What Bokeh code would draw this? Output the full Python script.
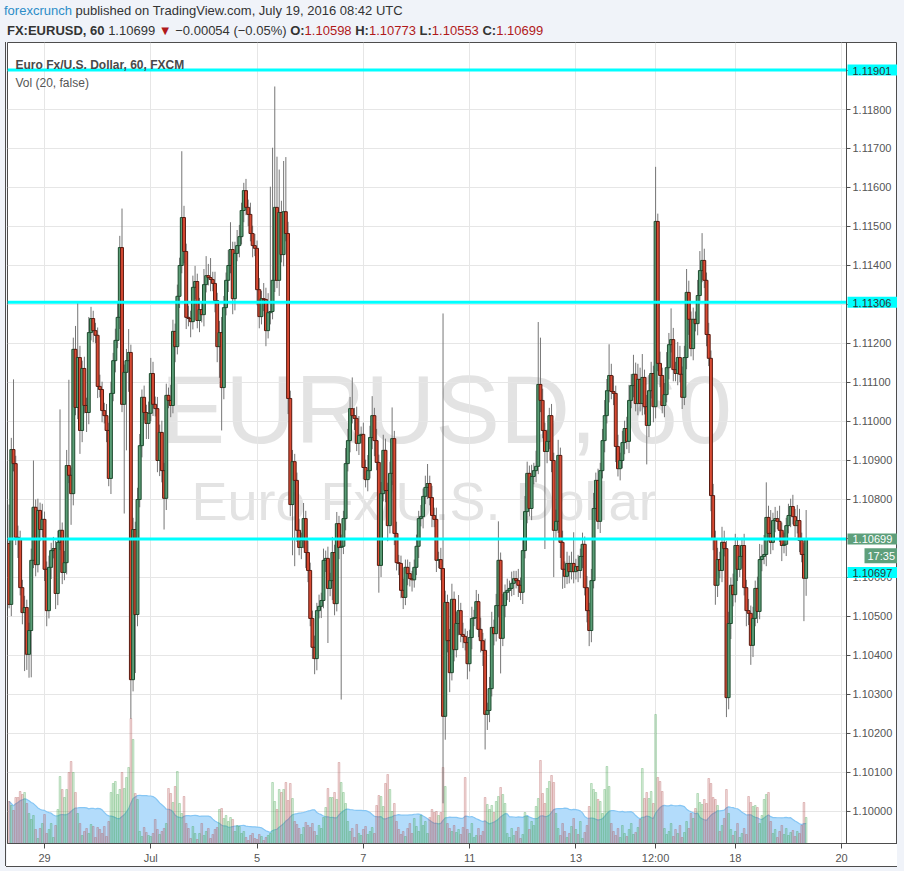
import numpy as np
import pandas as pd
from bokeh.plotting import figure
from bokeh.models import Range1d, FixedTicker, Label, Div
from bokeh.layouts import column
from bokeh.core.properties import value
from bokeh.embed import file_html
from bokeh.resources import INLINE

# ---------------- data (EURUSD, 60 min, FXCM) ----------------
first_open = 1.10687
close = [
    1.10531, 1.10928, 1.10892, 1.10703, 1.10700, 1.10574, 1.10510, 1.10523, 1.10403, 1.10464,
    1.10644, 1.10780, 1.10633, 1.10772, 1.10723, 1.10749, 1.10621, 1.10515, 1.10626, 1.10669,
    1.10674, 1.10559, 1.10690, 1.10721, 1.10613, 1.10638, 1.10887, 1.10862, 1.10815, 1.11185,
    1.11036, 1.11164, 1.10977, 1.11136, 1.11041, 1.11023, 1.11228, 1.11264, 1.11233, 1.11221,
    1.11090, 1.11082, 1.11028, 1.11015, 1.10977, 1.10854, 1.11072, 1.11156, 1.11208, 1.11267,
    1.11446, 1.11044, 1.11126, 1.11156, 1.11177, 1.10338, 1.10723, 1.10505, 1.10800, 1.10938,
    1.11062, 1.11023, 1.10995, 1.11021, 1.11123, 1.11044, 1.11033, 1.10900, 1.10972, 1.10874,
    1.10803, 1.11067, 1.11054, 1.11041, 1.11231, 1.11192, 1.11321, 1.11400, 1.11523, 1.11436,
    1.11267, 1.11264, 1.11256, 1.11344, 1.11359, 1.11259, 1.11287, 1.11274, 1.11351, 1.11374,
    1.11369, 1.11364, 1.11354, 1.11310, 1.11192, 1.11228, 1.11087, 1.11292, 1.11362, 1.11400,
    1.11441, 1.11315, 1.11431, 1.11451, 1.11474, 1.11541, 1.11592, 1.11549, 1.11531, 1.11482,
    1.11451, 1.11444, 1.11338, 1.11269, 1.11315, 1.11313, 1.11233, 1.11279, 1.11282, 1.11362,
    1.11549, 1.11362, 1.11536, 1.11428, 1.11538, 1.11482, 1.11059, 1.10787, 1.10897, 1.10849,
    1.10721, 1.10677, 1.10695, 1.10751, 1.10664, 1.10618, 1.10495, 1.10421, 1.10392, 1.10515,
    1.10526, 1.10541, 1.10644, 1.10649, 1.10572, 1.10592, 1.10664, 1.10533, 1.10738, 1.10677,
    1.10680, 1.10751, 1.10892, 1.10951, 1.11033, 1.11015, 1.11008, 1.10944, 1.10964, 1.10967,
    1.10882, 1.10851, 1.10874, 1.10959, 1.11015, 1.10951, 1.10895, 1.10631, 1.10815, 1.10926,
    1.10823, 1.10733, 1.10867, 1.10956, 1.10713, 1.10638, 1.10636, 1.10567, 1.10549, 1.10626,
    1.10610, 1.10597, 1.10594, 1.10626, 1.10680, 1.10751, 1.10756, 1.10808, 1.10831, 1.10841,
    1.10805, 1.10759, 1.10749, 1.10644, 1.10646, 1.10623, 1.10244, 1.10536, 1.10438, 1.10356,
    1.10544, 1.10415, 1.10482, 1.10515, 1.10454, 1.10449, 1.10433, 1.10379, 1.10446, 1.10495,
    1.10497, 1.10538, 1.10467, 1.10438, 1.10413, 1.10249, 1.10259, 1.10315, 1.10472, 1.10456,
    1.10528, 1.10644, 1.10444, 1.10528, 1.10562, 1.10567, 1.10572, 1.10585, 1.10597, 1.10592,
    1.10580, 1.10562, 1.10669, 1.10769, 1.10867, 1.10777, 1.10859, 1.10874, 1.10885, 1.11095,
    1.11054, 1.10977, 1.10923, 1.10949, 1.11015, 1.10900, 1.10721, 1.10744, 1.10913, 1.10690,
    1.10621, 1.10603, 1.10636, 1.10615, 1.10636, 1.10615, 1.10628, 1.10618, 1.10654, 1.10685,
    1.10574, 1.10515, 1.10464, 1.10592, 1.10777, 1.10849, 1.10744, 1.10874, 1.10951, 1.11015,
    1.11079, 1.11118, 1.11077, 1.11072, 1.10936, 1.10879, 1.10900, 1.10946, 1.10982, 1.10949,
    1.11054, 1.11092, 1.11121, 1.11046, 1.11108, 1.11046, 1.11113, 1.11038, 1.10990, 1.11079,
    1.11123, 1.11038, 1.11513, 1.11149, 1.11118, 1.11041, 1.11069, 1.11138, 1.11197, 1.11210,
    1.11133, 1.11123, 1.11164, 1.11121, 1.11062, 1.11164, 1.11331, 1.11262, 1.11187, 1.11262,
    1.11251, 1.11323, 1.11387, 1.11413, 1.11362, 1.11223, 1.11162, 1.10810, 1.10700, 1.10580,
    1.10646, 1.10618, 1.10690, 1.10674, 1.10292, 1.10482, 1.10580, 1.10556, 1.10682, 1.10621,
    1.10654, 1.10682, 1.10574, 1.10515, 1.10508, 1.10426, 1.10495, 1.10572, 1.10513, 1.10646,
    1.10654, 1.10659, 1.10754, 1.10713, 1.10690, 1.10746, 1.10751, 1.10744, 1.10721, 1.10682,
    1.10685, 1.10733, 1.10759, 1.10782, 1.10756, 1.10733, 1.10746, 1.10695, 1.10659, 1.10598, 1.10699,
]
# upper / lower shadow lengths, in pips
upper_wick = [
    10, 3, 18, 2, 3, 2, 2, 3, 2, 2,   3, 12, 2, 3, 2, 4, 2, 2, 3, 2,
    3, 2, 3, 31, 2, 3, 4, 22, 2, 3,   6, 14, 3, 2, 3, 2, 4, 3, 2, 2,
    2, 3, 2, 2, 3, 2, 3, 2, 3, 4,     3, 10, 2, 3, 6, 2, 3, 2, 3, 3,
    2, 3, 2, 3, 4, 3, 2, 3, 2, 3,     2, 3, 2, 4, 3, 2, 3, 2, 17, 3,
    2, 3, 2, 3, 4, 2, 3, 2, 4, 5,     3, 5, 2, 3, 2, 3, 4, 3, 2, 4,
    7, 2, 3, 4, 3, 2, 2, 3, 2, 3,     2, 3, 2, 3, 2, 4, 3, 5, 32, 34,
    31, 13, 11, 3, 13, 14, 3, 2, 3, 2, 2, 3, 2, 4, 2, 3, 2, 2, 3, 2,
    3, 2, 3, 2, 3, 2, 4, 2, 3, 2,     3, 2, 4, 3, 3, 8, 2, 3, 5, 2,
    3, 2, 4, 3, 5, 2, 3, 2, 3, 4,     3, 2, 3, 8, 2, 3, 2, 2, 3, 2,
    2, 3, 2, 2, 3, 2, 3, 2, 3, 5,     2, 3, 2, 3, 2, 3, 65.4, 3, 2, 3,
    4, 2, 3, 4, 2, 3, 2, 3, 2, 3,     2, 3, 2, 3, 2, 3, 2, 3, 4, 2,
    3, 10, 2, 3, 2, 3, 2, 3, 2, 2,    3, 2, 3, 4, 3, 2, 3, 2, 4, 16,
    12, 3, 2, 3, 2, 3, 2, 3, 4, 2,    3, 2, 3, 2, 3, 8, 2, 3, 2, 3,
    2, 3, 2, 3, 4, 2, 3, 2, 3, 4,     3, 8, 3, 4, 2, 3, 2, 3, 2, 3,
    4, 3, 5, 3, 4, 3, 6, 2, 3, 4,     3, 2, 14, 2, 3, 2, 3, 4, 3, 8,
    3, 2, 4, 3, 2, 3, 6, 3, 2, 3,     2, 4, 5, 7, 3, 2, 3, 2, 3, 2,
    3, 2, 4, 3, 2, 3, 2, 3, 3, 2,     3, 2, 3, 2, 3, 2, 3, 2, 3, 4,
    3, 5, 9, 3, 6, 2, 3, 2, 4, 2,     3, 2, 3, 2, 3, 2, 4, 3, 2, 3, 7.4,
]
lower_wick = [
    1, 3, 2, 2, 5, 2, 3, 15, 4, 6,    12, 2, 3, 2, 3, 2, 3, 4, 2, 3,
    2, 4, 3, 2, 3, 2, 3, 2, 8, 3,     2, 3, 6, 3, 2, 5, 3, 2, 3, 2,
    3, 2, 3, 2, 3, 2, 4, 2, 3, 2,     3, 2, 28, 20, 8, 10, 3, 15, 3, 2,
    3, 2, 4, 4, 2, 3, 2, 3, 4, 3,     8, 3, 2, 3, 2, 4, 2, 3, 2, 3,
    3, 2, 4, 2, 3, 2, 3, 2, 3, 2,     2, 3, 2, 3, 4, 8, 11, 3, 2, 3,
    2, 4, 3, 2, 3, 2, 3, 2, 3, 2,     3, 2, 4, 3, 2, 3, 4, 2, 3, 2,
    3, 2, 4, 2, 3, 2, 4, 3, 13, 22,   3, 2, 3, 2, 4, 3, 2, 3, 4, 3,
    2, 3, 2, 3, 14, 2, 5, 3, 2, 3,    39, 2, 3, 2, 3, 2, 3, 2, 3, 2,
    3, 2, 3, 2, 3, 4, 2, 7, 3, 2,     3, 4, 2, 3, 3, 2, 3, 2, 3, 2,
    3, 2, 3, 2, 2, 3, 2, 3, 2, 3,     2, 3, 2, 3, 2, 3, 22.3, 6, 3, 5,
    2, 3, 2, 3, 2, 3, 2, 4, 2, 3,     2, 3, 2, 3, 4, 9, 4, 3, 2, 3,
    2, 3, 9, 2, 3, 2, 3, 2, 3, 2,     3, 2, 3, 2, 3, 2, 3, 2, 3, 2,
    3, 2, 25, 3, 2, 3, 12, 2, 3, 4,   5, 3, 2, 3, 2, 3, 2, 3, 2, 3,
    2, 3, 4, 3, 2, 3, 2, 3, 2, 3,     2, 3, 2, 3, 4, 2, 3, 2, 3, 2,
    3, 2, 3, 2, 3, 2, 3, 2, 10, 3,    2, 4, 3, 2, 3, 2, 3, 2, 3, 2,
    3, 2, 3, 2, 3, 2, 3, 4, 2, 3,     2, 3, 2, 3, 2, 3, 2, 4, 3, 5,
    3, 2, 3, 2, 5, 3, 4, 3, 2, 3,     2, 3, 2, 4, 3, 5, 3, 2, 3, 2,
    3, 2, 3, 2, 3, 2, 3, 2, 3, 4,     2, 3, 2, 3, 2, 3, 2, 3, 2, 11, 4.5,
]
volume = [
    42, 38, 33, 46, 46, 52, 49, 51, 40, 30,   24, 28, 14, 5, 15, 20, 29, 10, 14, 20,
    6, 18, 34, 67, 54, 46, 54, 71, 82, 71,    51, 30, 20, 8, 12, 15, 10, 19, 17, 6,
    16, 14, 10, 17, 7, 22, 51, 60, 62, 49,    54, 71, 55, 66, 76, 125, 104, 50, 44, 12,
    7, 16, 11, 8, 7, 10, 24, 14, 9, 12,       15, 20, 55, 50, 41, 57, 72, 40, 30, 47,
    20, 15, 5, 17, 10, 4, 10, 20, 8, 12,      15, 5, 9, 14, 16, 34, 35, 25, 28, 22,
    26, 24, 12, 18, 17, 10, 12, 6, 3, 8,      10, 5, 4, 9, 7, 3, 6, 8, 10, 61,
    42, 34, 54, 51, 54, 61, 43, 60, 45, 22,   19, 15, 9, 16, 21, 18, 16, 20, 12, 8,
    18, 15, 26, 36, 55, 46, 46, 51, 44, 81,   61, 51, 40, 22, 12, 15, 6, 19, 10, 8,
    14, 17, 9, 12, 16, 10, 38, 48, 47, 37,    60, 69, 54, 32, 40, 22, 14, 9, 12, 7,
    15, 20, 10, 25, 17, 12, 28, 18, 22, 10,   26, 34, 31, 32, 28, 31, 76, 57, 20, 15,
    12, 18, 11, 14, 9, 16, 66, 14, 10, 20,    6, 8, 15, 8, 12, 46, 39, 34, 38, 31,
    42, 47, 56, 49, 40, 10, 6, 15, 8, 12,     16, 5, 9, 31, 27, 14, 22, 18, 37, 45,
    83, 50, 40, 55, 62, 68, 61, 30, 15, 8,    20, 12, 6, 10, 17, 25, 14, 9, 22, 5,
    11, 18, 37, 60, 54, 51, 44, 42, 30, 54,   77, 57, 20, 12, 8, 15, 6, 18, 10, 7,
    14, 20, 9, 11, 16, 24, 75, 45, 51, 45,    52, 40, 129, 66, 62, 52, 15, 9, 12, 20,
    7, 14, 10, 18, 6, 11, 22, 15, 30, 25,     35, 50, 41, 39, 44, 40, 65, 60, 46, 44,
    38, 12, 18, 25, 54, 30, 14, 8, 12, 20,    6, 10, 15, 9, 47, 41, 37, 38, 36, 20,
    28, 44, 49, 51, 22, 10, 14, 6, 12, 18,    9, 15, 8, 11, 13, 7, 12, 10, 18, 41, 26,
]
# time axis: bar index of each labelled tick and its text
tick_bar = [16, 64, 112, 160, 208, 256, 292, 328, 376]
tick_text = ["29", "Jul", "5", "7", "11", "13", "12:00", "18", "20"]
price_ticks = [1.100, 1.101, 1.102, 1.103, 1.104, 1.105, 1.106, 1.107, 1.108, 1.109,
               1.110, 1.111, 1.112, 1.113, 1.114, 1.115, 1.116, 1.117, 1.118, 1.119]
hlines = [1.11901, 1.11306, 1.10699]
last_price = 1.10699
countdown = "17:35"

# ---------------- derived ----------------
n = len(close)
idx = np.arange(n)
c = np.array(close)
o = np.concatenate([[first_open], c[:-1]])
top = np.maximum(o, c)
bot = np.minimum(o, c)
hi = top + np.array(upper_wick) * 1e-4
lo = bot - np.array(lower_wick) * 1e-4
rising = c >= o
vol = np.array(volume, dtype=float)
vol_ma = pd.Series(vol).rolling(20, min_periods=1).mean().values

FONT = "Liberation Sans"
AXIS_C = "#4d4d4d"
GRID_C = "#e6e6e6"
Y0, Y1 = 1.099179, 1.119718

# frame covers the price pane plus the price-scale strip (x in pixels 7..897)
p = figure(width=891, height=824, output_backend="svg", toolbar_location=None,
           x_range=Range1d(-0.72, 401.26), y_range=Range1d(Y0, Y1),
           y_axis_location=None,
           min_border_left=1, min_border_top=0, min_border_right=0, min_border_bottom=23)
p.margin = (0, 7, 5, 6)
p.styles = {"box-shadow": "0 1px 0 0 #4d4d4d, -1px 0 0 0 #4d4d4d"}
p.background_fill_color = "white"
p.border_fill_color = "white"
p.outline_line_color = AXIS_C
p.extra_x_ranges = {"px": Range1d(7, 897)}
p.extra_y_ranges = {"vol": Range1d(0, 801)}
SEP = 846   # price-scale separator (pixel column)

# grid
p.xgrid.ticker = FixedTicker(ticks=tick_bar)
p.xgrid.grid_line_color = GRID_C
p.ygrid.visible = False
p.segment(x0=7, x1=SEP, y0=price_ticks, y1=price_ticks, x_range_name="px",
          line_color=GRID_C, line_width=1)

# time axis
xa = p.xaxis[0]
xa.ticker = FixedTicker(ticks=tick_bar)
xa.major_label_overrides = {t: s for t, s in zip(tick_bar, tick_text)}
xa.major_tick_out = 5
xa.major_tick_in = 0
xa.minor_tick_line_color = None
xa.axis_line_color = AXIS_C
xa.major_tick_line_color = AXIS_C
xa.major_label_text_font = FONT
xa.major_label_text_font_size = "11px"
xa.major_label_text_color = "#555555"
xa.major_label_standoff = 3

# watermark
p.add_layout(Label(x=153, y=434, x_units="screen", y_units="screen", text="EURUSD, 60",
                   text_font=FONT, text_font_size="97px", text_color="#e3e3e3",
                   text_baseline="alphabetic", level="image"))
p.add_layout(Label(x=184, y=343, x_units="screen", y_units="screen", text="Euro Fx/U.S. Dollar",
                   text_font=FONT, text_font_size="54px", text_color="#e3e3e3",
                   text_baseline="alphabetic", level="image"))

# volume + MA
p.varea(x=idx, y1=0, y2=vol_ma, y_range_name="vol", fill_color="#b3dcfb", fill_alpha=1.0)
p.line(idx, vol_ma, y_range_name="vol", line_color="#86c6f4", line_width=1.2)
vcol = np.where(rising, "#3fa34d", "#b4504f")
p.vbar(x=idx, width=0.78, top=vol, bottom=0, y_range_name="vol",
       fill_color=vcol, fill_alpha=0.2, line_color=vcol, line_alpha=0.3, line_width=1)

# candles
p.segment(idx, hi, idx, lo, line_color="#767676", line_width=1)
body_fill = np.where(rising, "#5a9d76", "#d94a33")
body_line = np.where(rising, "#1d4b2e", "#5a1a10")
p.vbar(x=idx, width=1.3, top=top, bottom=bot, fill_color=body_fill, line_color=body_line,
       line_width=1)

# horizontal cyan lines
p.segment(x0=7, x1=SEP, y0=hlines, y1=hlines, x_range_name="px",
          line_color="#00ffff", line_width=3)

# price scale (separator, ticks, labels)
p.segment(x0=SEP, x1=SEP, y0=Y0, y1=Y1, x_range_name="px", line_color=AXIS_C, line_width=1)
p.segment(x0=SEP, x1=SEP + 4, y0=price_ticks, y1=price_ticks, x_range_name="px",
          line_color=AXIS_C, line_width=1)
p.text(x=SEP + 6, y=price_ticks, text=[f"{t:.5f}" for t in price_ticks], x_range_name="px",
       text_font=value(FONT), text_font_size="11px", text_color="#555555",
       text_baseline="middle", text_align="left")

p.add_layout(Label(x=8, y=779, x_units="screen", y_units="screen",
                   text="Euro Fx/U.S. Dollar, 60, FXCM", text_font=FONT,
                   text_font_size="12px", text_font_style="bold", text_color="#4a4a4a",
                   text_baseline="alphabetic"))
p.add_layout(Label(x=8, y=761, x_units="screen", y_units="screen",
                   text="Vol (20, false)", text_font=FONT,
                   text_font_size="12px", text_color="#555555", text_baseline="alphabetic"))

# price-scale tags
def tag(y, txt, bg, fg, x=SEP + 1, pad=(5, 6)):
    p.add_layout(Label(x=x, y=y, x_range_name="px", text=txt, text_font=FONT,
                       text_font_size="11px", text_color=fg, text_align="left",
                       text_baseline="middle", background_fill_color=bg,
                       padding=dict(left=pad[0], right=pad[1], top=2, bottom=1)))

tag(hlines[0], f"{hlines[0]:.5f}", "#00ffff", "#333333")
tag(hlines[1], f"{hlines[1]:.5f}", "#00ffff", "#333333")
tag(last_price, f"{last_price:.5f}", "#5e9f7b", "#ffffff")
tag(1.10656, countdown, "#5e9f7b", "#ffffff", x=864, pad=(3, 3))
tag(1.10613, "1.10697", "#00ffff", "#333333")

header_html = (
    "<div style=\"font-family:'Liberation Sans',Arial,sans-serif;font-size:13px;color:#333;"
    "line-height:20px;padding:1px 0 0 4px;white-space:nowrap\">"
    "<span style=\"color:#2c8dc8\">forexcrunch</span> published on TradingView.com, "
    "July 19, 2016 08:42 UTC<br>"
    "<span style=\"padding-left:3px\"></span><b>FX:EURUSD, 60</b> 1.10699 "
    "<span style=\"color:#b0191b\">&#9660;</span> "
    "&minus;0.00054 (&minus;0.05%) "
    "<b>O:</b><span style=\"color:#b0191b\">1.10598</span> "
    "<b>H:</b><span style=\"color:#b0191b\">1.10773</span> "
    "<b>L:</b><span style=\"color:#b0191b\">1.10553</span> "
    "<b>C:</b><span style=\"color:#b0191b\">1.10699</span></div>"
)
header = Div(text=header_html, width=904, height=42, margin=(0, 0, 0, 0),
             styles={"background-color": "#f0f3f9"})

layout = column(header, p, spacing=0, width=904, height=871,
                styles={"background-color": "#f0f3f9"})
open("out.html", "w").write(file_html(layout, INLINE))
